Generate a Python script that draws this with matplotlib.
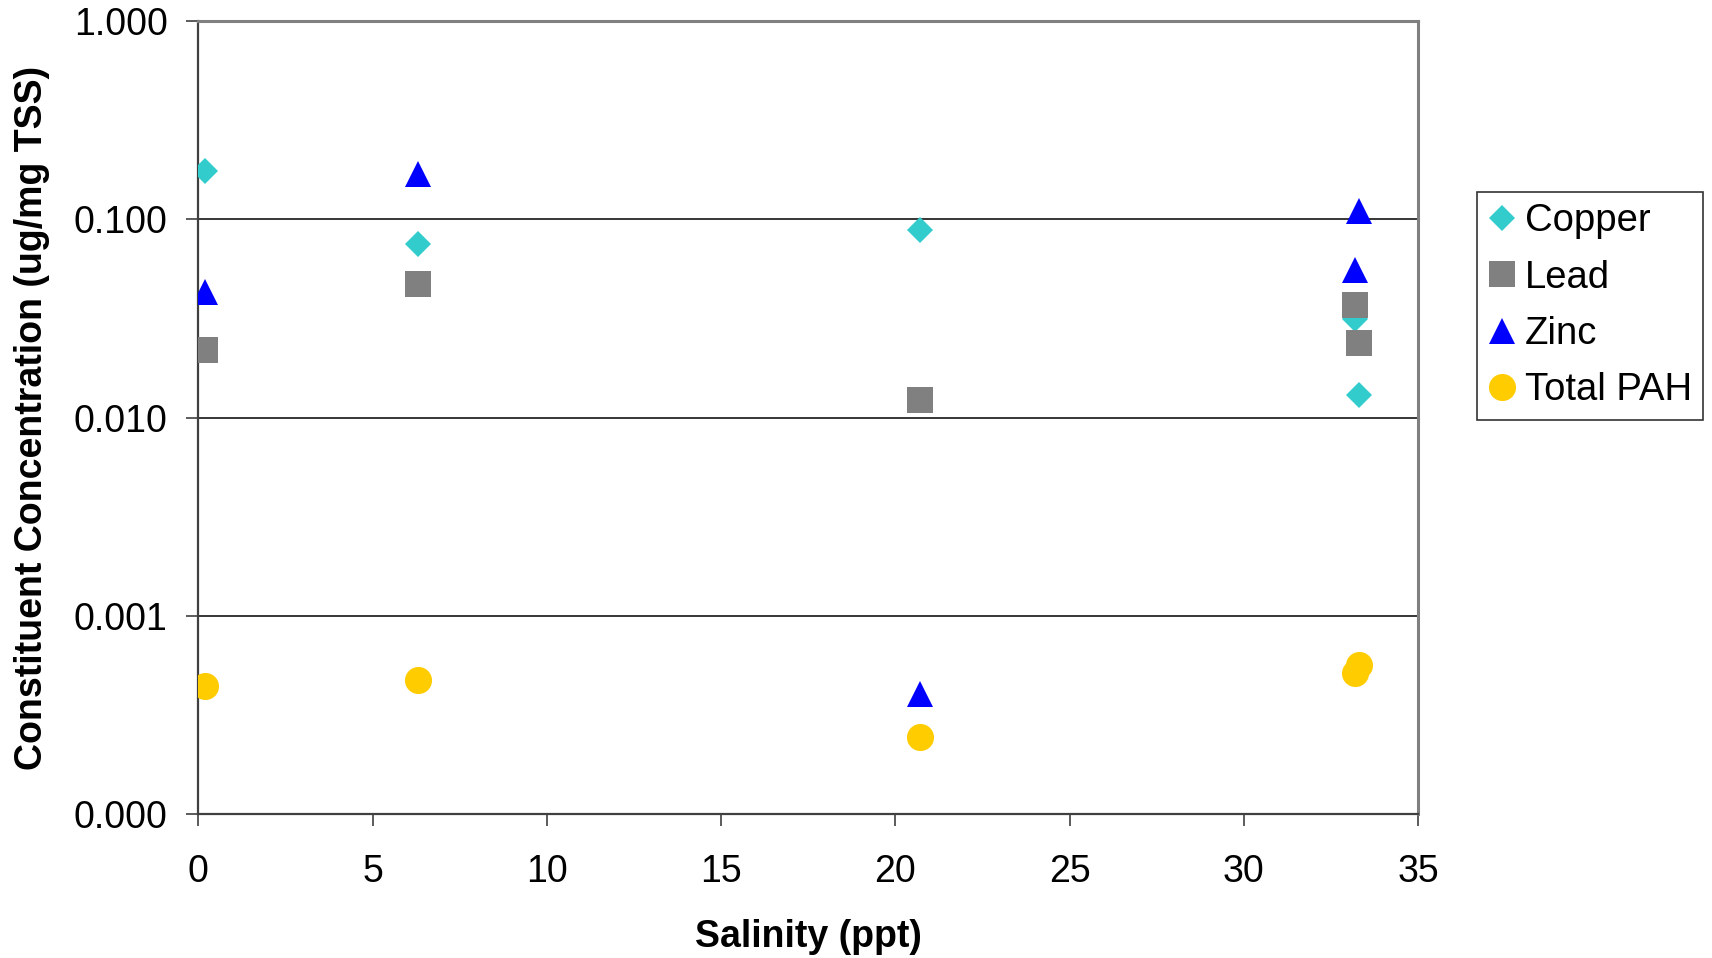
import matplotlib.pyplot as plt
from matplotlib.ticker import FixedLocator, FuncFormatter, NullLocator

plt.rcParams['font.family'] = ['Liberation Sans', 'DejaVu Sans']

# Salinity (ppt) and concentration (ug/mg TSS) per constituent
copper_x = [0.2, 6.3, 20.7, 33.2, 33.3]
copper_y = [0.176, 0.0752, 0.0887, 0.0313, 0.0130]

lead_x = [0.2, 6.3, 20.7, 33.2, 33.3]
lead_y = [0.0220, 0.0470, 0.01225, 0.0368, 0.0237]

zinc_x = [0.2, 6.3, 20.7, 33.2, 33.3]
zinc_y = [0.0430, 0.169, 0.000404, 0.0555, 0.110]

pah_x = [0.2, 6.3, 20.7, 33.2, 33.3]
pah_y = [0.000441, 0.000476, 0.000246, 0.000518, 0.000564]

y_ticks = [0.0001, 0.001, 0.01, 0.1, 1.0]
x_ticks = [0, 5, 10, 15, 20, 25, 30, 35]

fig = plt.figure(figsize=(17.12, 9.58), dpi=100)
ax = fig.add_axes([0.1159, 0.1500, 0.7124, 0.8281])

ax.plot(copper_x, copper_y, ls="none", marker="D", ms=13.2, mew=0,
        color="#33CCCC", label="Copper", zorder=3)
ax.plot(lead_x, lead_y, ls="none", marker="s", ms=18.5, mew=0,
        color="#808080", label="Lead", zorder=3)
ax.plot(zinc_x, zinc_y, ls="none", marker="^", ms=18.7, mew=0,
        color="#0000FF", label="Zinc", zorder=3)
ax.plot(pah_x, pah_y, ls="none", marker="o", ms=19.5, mew=0,
        color="#FFCC00", label="Total PAH", zorder=3)

ax.set_yscale("log")
ax.set_ylim(0.0001, 1.0)
ax.set_xlim(0, 35)
ax.yaxis.set_major_locator(FixedLocator(y_ticks))
ax.yaxis.set_minor_locator(NullLocator())
ax.yaxis.set_major_formatter(FuncFormatter(lambda v, p: f"{v:.3f}"))
ax.set_xticks(x_ticks)

ax.grid(axis="y", color="black", linewidth=1.1, zorder=1)
ax.set_axisbelow(True)

for s in ["top", "right"]:
    ax.spines[s].set_color("#808080")
    ax.spines[s].set_linewidth(2.2)
for s in ["left", "bottom"]:
    ax.spines[s].set_color("#404040")
    ax.spines[s].set_linewidth(1.6)

ax.tick_params(axis="both", direction="out", length=8.5, width=1.2,
               color="#404040", labelsize=27)
ax.tick_params(axis="x", pad=20)
ax.tick_params(axis="y", pad=13.5)

ax.set_xlabel("Salinity (ppt)", fontsize=27, fontweight="bold", labelpad=21)
ax.set_ylabel("Constituent Concentration (ug/mg TSS)", fontsize=27,
              fontweight="bold", labelpad=17)

leg = fig.legend(loc="upper left", bbox_to_anchor=(1477 / 1712, 1 - 192 / 958),
                 fontsize=27.5, frameon=True, fancybox=False, edgecolor="black",
                 borderpad=0.3, handlelength=0.7, handletextpad=0.25,
                 labelspacing=0.53, borderaxespad=0)
leg.get_frame().set_linewidth(1.2)

plt.savefig("out.png", dpi=100)
